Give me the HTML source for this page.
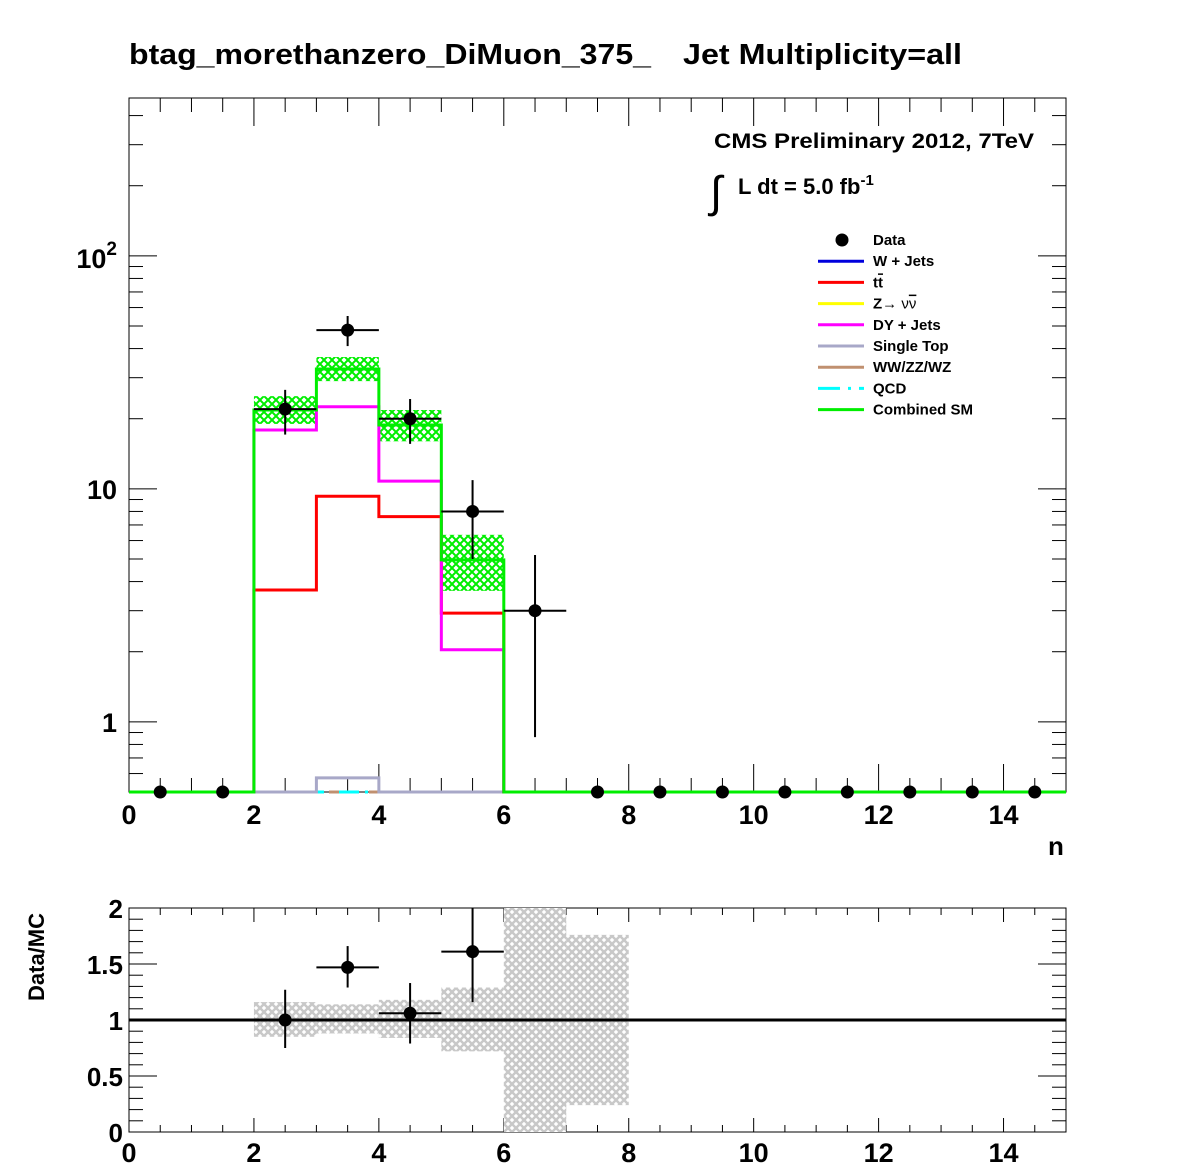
<!DOCTYPE html>
<html><head><meta charset="utf-8"><style>
body{margin:0;background:#fff;}
svg{display:block;font-family:"Liberation Sans",Arial,sans-serif;font-weight:bold;}
</style></head><body>
<svg id="c" width="1196" height="1172" viewBox="0 0 1196 1172" xmlns="http://www.w3.org/2000/svg">
<defs>
<pattern id="hg" width="8" height="8" patternUnits="userSpaceOnUse"><rect width="8" height="8" fill="#fff"/><path d="M0 4L4 0L8 4L4 8Z" fill="none" stroke="#00ee00" stroke-width="2"/></pattern>
<pattern id="hgr" width="8" height="8" patternUnits="userSpaceOnUse"><rect width="8" height="8" fill="#fff"/><path d="M0 4L4 0L8 4L4 8Z" fill="none" stroke="#c8c8c8" stroke-width="2.5"/></pattern>
</defs>
<text x="129" y="64" font-size="29" textLength="522" lengthAdjust="spacingAndGlyphs">btag_morethanzero_DiMuon_375_</text>
<text x="683" y="64" font-size="29" textLength="279" lengthAdjust="spacingAndGlyphs">Jet Multiplicity=all</text>
<g id="main"></g>
<g id="ratio"></g>
<text x="714" y="148" font-size="21" textLength="320" lengthAdjust="spacingAndGlyphs">CMS Preliminary 2012, 7TeV</text>
<text x="710" y="207" font-size="44" font-weight="normal">∫</text>
<text x="738" y="194" font-size="22">L dt = 5.0 fb<tspan dy="-9" font-size="15">-1</tspan></text>
<text x="1048" y="855" font-size="26">n</text>
<text transform="translate(44,957) rotate(-90)" font-size="22" text-anchor="middle">Data/MC</text>
<g id="legend"></g>
</svg>
<script>
const NS="http://www.w3.org/2000/svg";
const bins=[0,1,2,3,4,5,6,7,8,9,10,11,12,13,14];
const dataVals=[0,0,22,48,20,8,3,0,0,0,0,0,0,0,0];
const dataErrUp=[0,0,26.6,55.2,24.3,10.9,5.2,0,0,0,0,0,0,0,0];
const dataErrDn=[0,0,17.1,41,15.6,5.0,0.86,0,0,0,0,0,0,0,0];
const smVals=[0,0,21.8,32.7,18.8,4.96,0,0,0,0,0,0,0,0,0];
const smUp=[0,0,25,36.8,21.8,6.35,0,0,0,0,0,0,0,0,0];
const smDn=[0,0,19,29,16,3.65,0,0,0,0,0,0,0,0,0];
const dyVals=[0,0,17.9,22.5,10.8,2.04,0,0,0,0,0,0,0,0,0];
const ttVals=[0,0,3.68,9.3,7.6,2.93,0,0,0,0,0,0,0,0,0];
const stVals=[0,0,0,0.575,0,0,0,0,0,0,0,0,0,0,0];
const ratioVals=[null,null,1.0,1.47,1.06,1.61];
const ratioErrUp=[0,0,1.27,1.66,1.33,2.0];
const ratioErrDn=[0,0,0.75,1.29,0.79,1.16];
const bandUp=[0,0,1.16,1.14,1.18,1.29,2,1.76];
const bandDn=[0,0,0.85,0.88,0.84,0.72,0,0.24];
const xTickLabels=["0","2","4","6","8","10","12","14"];
const ratioTickLabels=["0","0.5","1","1.5","2"];

const X0=129,X1=1066,Y0=792,Y1=98;
const R0=1132,R1=908;
const sx=v=>X0+(X1-X0)*v/15;
const LMIN=Math.log10(0.5),LMAX=Math.log10(0.5)+(Y0-Y1)/233;
const sy=v=>Y0-(Math.log10(Math.max(v,0.5))-LMIN)*233;
const ry=v=>R0-(R0-R1)*v/2;
function el(tag,attrs,parent){const e=document.createElementNS(NS,tag);for(const k in attrs)e.setAttribute(k,attrs[k]);parent.appendChild(e);return e;}
const main=document.getElementById('main'),ratio=document.getElementById('ratio'),leg=document.getElementById('legend');

let f=el('rect',{x:X0,y:Y1,width:X1-X0,height:Y0-Y1,fill:'none',stroke:'#000','stroke-width':1},main);


for(let v=0;v<=15.001;v+=0.5){const maj=Math.abs(v%2)<1e-6;const L=maj?28:14;const x=sx(v);
 el('line',{x1:x,x2:x,y1:Y0,y2:Y0-L,stroke:'#000'},main);el('line',{x1:x,x2:x,y1:Y1,y2:Y1+L,stroke:'#000'},main);}
xTickLabels.forEach((t,i)=>{const tx=el('text',{x:sx(i*2),y:824,'font-size':27,'text-anchor':'middle'},main);tx.textContent=t;
 
 });
for(let d=-1;d<=2;d++){for(let m=1;m<=9;m++){const v=m*Math.pow(10,d);if(v<0.5||Math.log10(v)>LMAX)continue;const y=sy(v);const L=m==1?28:14;
 el('line',{x1:X0,x2:X0+L,y1:y,y2:y,stroke:'#000'},main);el('line',{x1:X1,x2:X1-L,y1:y,y2:y,stroke:'#000'},main);}}
[[1,'1'],[10,'10']].forEach(([v,t])=>{const tx=el('text',{x:117,y:sy(v)+10,'font-size':27,'text-anchor':'end'},main);tx.textContent=t;
 
 });
{const tx=el('text',{x:117,y:sy(100)+12,'font-size':27,'text-anchor':'end'},main);tx.innerHTML='10<tspan dy="-13" font-size="19">2</tspan>';
 
 }

bins.forEach(i=>{if(smVals[i]>0){const r=el('rect',{x:sx(i),y:sy(smUp[i]),width:sx(i+1)-sx(i),height:sy(smDn[i])-sy(smUp[i]),fill:'url(#hg)'},main);
 
 }});
function stepPath(vals){let d='';bins.forEach(i=>{const y=sy(vals[i]);d+=(i==0?'M':'L')+sx(i)+' '+y+'L'+sx(i+1)+' '+y;});return d;}
function stepSeries(vals,color,name,dash){const p=el('path',{d:stepPath(vals),fill:'none',stroke:color,'stroke-width':3},main);if(dash)p.setAttribute('stroke-dasharray',dash);
 
 }
stepSeries(bins.map(()=>0),'#00ffff','qcd-line','20 6 3 6');
stepSeries(bins.map(()=>0),'#c09070','dibosons-line','10 30');
stepSeries(stVals,'#a8a8c8','single-top-line');
stepSeries(ttVals,'#ff0000','ttbar-line');
stepSeries(dyVals,'#ff00ff','dy-jets-line');
stepSeries(smVals,'#00ee00','combined-sm-line');
bins.forEach(i=>{const cx=sx(i+0.5),cy=sy(dataVals[i]);
 if(dataVals[i]>0){el('line',{x1:sx(i),x2:sx(i+1),y1:cy,y2:cy,stroke:'#000','stroke-width':2},main);
  el('line',{x1:cx,x2:cx,y1:sy(dataErrUp[i]),y2:sy(dataErrDn[i]),stroke:'#000','stroke-width':2},main);}
 const c=el('circle',{cx:cx,cy:cy,r:6.5,fill:'#000'},main);
 
 });

let rf=el('rect',{x:X0,y:R1,width:X1-X0,height:R0-R1,fill:'none',stroke:'#000'},ratio);


for(let v=0;v<=15.001;v+=0.5){const maj=Math.abs(v%2)<1e-6;const L=maj?14:7;const x=sx(v);
 el('line',{x1:x,x2:x,y1:R0,y2:R0-L,stroke:'#000'},ratio);el('line',{x1:x,x2:x,y1:R1,y2:R1+L,stroke:'#000'},ratio);}
for(let k=0;k<=20;k++){const v=k/10;const y=ry(v);const L=k%5==0?28:14;
 el('line',{x1:X0,x2:X0+L,y1:y,y2:y,stroke:'#000'},ratio);el('line',{x1:X1,x2:X1-L,y1:y,y2:y,stroke:'#000'},ratio);}
ratioTickLabels.forEach((t,i)=>{const tx=el('text',{x:123,y:ry(i*0.5)+10,'font-size':26,'text-anchor':'end'},ratio);tx.textContent=t;
 
 });
xTickLabels.forEach((t,i)=>{const tx=el('text',{x:sx(i*2),y:1162,'font-size':27,'text-anchor':'middle'},ratio);tx.textContent=t;
 
 });
bandUp.forEach((u,i)=>{if(u>0){const r=el('rect',{x:sx(i),y:ry(u),width:sx(i+1)-sx(i),height:ry(bandDn[i])-ry(u),fill:'url(#hgr)'},ratio);
 
 }});
{const l=el('line',{x1:X0,x2:X1,y1:ry(1),y2:ry(1),stroke:'#000','stroke-width':3},ratio);
 
 }
ratioVals.forEach((v,i)=>{if(v==null)return;const cx=sx(i+0.5),cy=ry(v);
 el('line',{x1:sx(i),x2:sx(i+1),y1:cy,y2:cy,stroke:'#000','stroke-width':2},ratio);
 el('line',{x1:cx,x2:cx,y1:ry(ratioErrUp[i]),y2:ry(ratioErrDn[i]),stroke:'#000','stroke-width':2},ratio);
 const c=el('circle',{cx:cx,cy:cy,r:6.5,fill:'#000'},ratio);
 
 });

const legLabels=["Data","W + Jets",'t<tspan text-decoration="overline">t</tspan>','Z<tspan font-weight="normal">→ ν<tspan text-decoration="overline">ν</tspan></tspan>',"DY + Jets","Single Top","WW/ZZ/WZ","QCD","Combined SM"];
const legColors=["#000","#0000dd","#ff0000","#ffff00","#ff00ff","#a8a8c8","#c09070","#00ffff","#00ee00"];
legLabels.forEach((t,i)=>{const y=240+i*21.2;
 if(i==0){el('circle',{cx:842,cy:y,r:6.5,fill:'#000'},leg);}
 else{const l=el('line',{x1:818,x2:864,y1:y,y2:y,stroke:legColors[i],'stroke-width':3},leg);if(i==7)l.setAttribute('stroke-dasharray','22 8 3 8');}
 const tx=el('text',{x:873,y:y+5,'font-size':15},leg);tx.innerHTML=t;
 
 });
</script>
</body></html>
